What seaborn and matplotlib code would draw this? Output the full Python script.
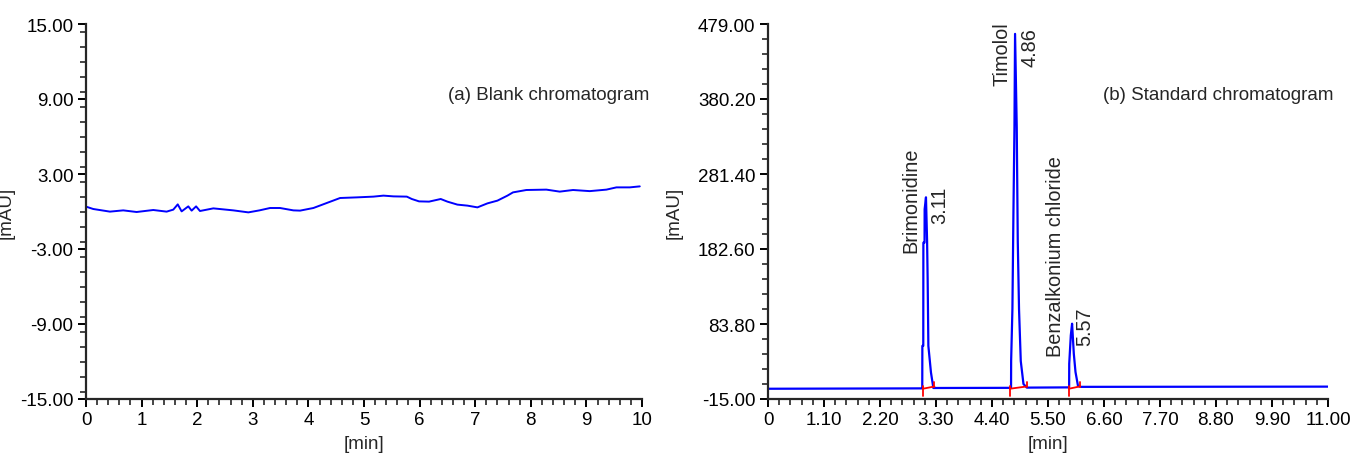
import numpy as np
import pandas as pd
import matplotlib
matplotlib.use("Agg")
import matplotlib.pyplot as plt
from matplotlib.ticker import MultipleLocator, FixedLocator
import seaborn as sns

# ---------------- data ----------------
# (a) blank chromatogram
blank_time = [0.00, 0.13, 0.43, 0.67, 0.91, 1.21, 1.45, 1.57, 1.65, 1.72, 1.84, 1.90,
              1.98, 2.05, 2.29, 2.65, 2.92, 3.12, 3.31, 3.49, 3.73, 3.85, 4.09, 4.33,
              4.57, 4.87, 5.17, 5.35, 5.53, 5.77, 5.86, 5.99, 6.17, 6.38, 6.50, 6.68,
              6.86, 7.04, 7.22, 7.40, 7.58, 7.68, 7.92, 8.28, 8.52, 8.76, 9.06, 9.36,
              9.54, 9.78, 9.96]
blank_signal = [0.39, 0.20, -0.01, 0.09, -0.04, 0.12, -0.01, 0.15, 0.57, 0.01, 0.41, 0.07,
                0.41, 0.04, 0.25, 0.09, -0.07, 0.09, 0.28, 0.28, 0.09, 0.07, 0.28, 0.68,
                1.08, 1.13, 1.19, 1.27, 1.21, 1.19, 1.00, 0.81, 0.79, 1.00, 0.79, 0.55,
                0.47, 0.33, 0.65, 0.87, 1.27, 1.53, 1.72, 1.75, 1.59, 1.72, 1.63, 1.75,
                1.93, 1.93, 2.01]

# (b) standard chromatogram
std_time = [0.00, 3.000, 3.030, 3.032, 3.050, 3.052, 3.075, 3.077, 3.103, 3.125, 3.136,
            3.150, 3.201, 3.248,
            3.30, 4.70, 4.774, 4.776, 4.801, 4.821, 4.841, 4.853, 4.886, 4.906, 4.931,
            4.965, 5.018, 5.083, 5.90, 5.915, 5.917, 5.948, 5.973, 6.007, 6.040, 6.090,
            6.15, 11.00]
std_signal = [-1.5, -1.0, -1.0, 55.0, 55.0, 191.0, 191.0, 235.0, 250.7, 193.0, 143.0,
              55.0, 20.0, -0.5,
              -0.5, -0.3, -0.3, 35.5, 103.6, 231.0, 343.0, 466.0, 343.0, 193.5, 103.0,
              35.0, 4.8, 0.0, 0.3, 0.3, 31.5, 68.9, 84.2, 44.7, 20.6, 2.0,
              1.0, 1.3]

# integration marks (red)
peak_start = [3.04, 4.75, 5.91]
peak_end = [3.27, 5.08, 6.12]
start_low, start_high = -10.6, 1.7
end_low, end_high = 0.4, 7.0
base_start, base_end = -1.5, 1.5

# peak labels
peak_names = ["Brimonidine", "Timolol", "Benzalkonium chloride"]
peak_rt_labels = ["3.11", "4.86", "5.57"]
name_pos_x = [2.80, 4.59, 5.65]
name_pos_y = [178.7, 398.6, 41.6]
rt_pos_x = [3.37, 5.14, 6.22]
rt_pos_y = [265.6, 475.0, 107.5]

a_yticks = [-15.0, -9.0, -3.0, 3.0, 9.0, 15.0]
a_xticks = list(range(0, 11))
b_yticks = [-15.0, 83.8, 182.6, 281.4, 380.2, 479.0]
b_xticks = [0.0, 1.1, 2.2, 3.3, 4.4, 5.5, 6.6, 7.7, 8.8, 9.9, 11.0]

# ---------------- style ----------------
sns.set_style("ticks")
plt.rcParams["font.family"] = ["Liberation Sans", "DejaVu Sans"]
FS = 13.5
BLUE = "#0000FF"
RED = "#FF0000"

fig = plt.figure(figsize=(13.54, 4.56), dpi=100)
ax_a = fig.add_axes([86 / 1354, 56 / 456, 556 / 1354, 375 / 456])
ax_b = fig.add_axes([768 / 1354, 56 / 456, 560 / 1354, 375 / 456])

df_a = pd.DataFrame({"t": blank_time, "v": blank_signal})
sns.lineplot(data=df_a, x="t", y="v", ax=ax_a, color=BLUE, lw=1.4,
             estimator=None, sort=False)

df_b = pd.DataFrame({"t": std_time, "v": std_signal})
sns.lineplot(data=df_b, x="t", y="v", ax=ax_b, color=BLUE, lw=1.6,
             estimator=None, sort=False)

# red integration baselines and ticks
for i, (ts, te) in enumerate(zip(peak_start, peak_end)):
    seg = pd.DataFrame({
        "t": [ts, ts, ts, te, te, te],
        "v": [start_low, start_high, base_start, base_end, end_low, end_high],
        "part": ["s", "s", "b", "b", "e", "e"],
    })
    for part in ["s", "b", "e"]:
        sns.lineplot(data=seg[seg.part == part], x="t", y="v", ax=ax_b,
                     color=RED, lw=1.3, estimator=None, sort=False)

for name, rt, nx, ny, rx, ry in zip(peak_names, peak_rt_labels, name_pos_x,
                                    name_pos_y, rt_pos_x, rt_pos_y):
    ax_b.text(nx, ny, name, rotation=90, ha="center", va="bottom", fontsize=14.3)
    ax_b.text(rx, ry, rt, rotation=90, ha="center", va="top", fontsize=14.3)

ax_a.text(1.014, 0.813, "(a) Blank chromatogram", transform=ax_a.transAxes,
          ha="right", va="center", fontsize=FS)
ax_b.text(1.009, 0.813, "(b) Standard chromatogram", transform=ax_b.transAxes,
          ha="right", va="center", fontsize=FS)

# axes formatting
ax_a.set_xlim(0, 10)
ax_a.set_ylim(-15, 15)
ax_a.xaxis.set_major_locator(FixedLocator(a_xticks))
ax_a.xaxis.set_minor_locator(MultipleLocator(0.2))
ax_a.yaxis.set_major_locator(FixedLocator(a_yticks))
ax_a.yaxis.set_minor_locator(MultipleLocator(1.2))
ax_a.set_xticklabels([str(v) for v in a_xticks])
ax_a.set_yticklabels([f"{v:.2f}" for v in a_yticks])

ax_b.set_xlim(0, 11)
ax_b.set_ylim(-15, 479)
ax_b.xaxis.set_major_locator(FixedLocator(b_xticks))
ax_b.xaxis.set_minor_locator(FixedLocator(list(np.arange(0, 11.001, 0.22))))
ax_b.yaxis.set_major_locator(FixedLocator(b_yticks))
ax_b.yaxis.set_minor_locator(FixedLocator(list(-15 + np.arange(0, 26) * 19.76)))
ax_b.set_xticklabels(["0"] + [f"{v:.2f}" for v in b_xticks[1:]])
ax_b.set_yticklabels([f"{v:.2f}" for v in b_yticks])

for ax in (ax_a, ax_b):
    sns.despine(ax=ax)
    ax.spines["left"].set_linewidth(1.6)
    ax.spines["bottom"].set_linewidth(1.6)
    ax.tick_params(axis="both", which="major", direction="out", length=6,
                   width=1.4, labelsize=FS, pad=3, colors="black")
    ax.tick_params(axis="both", which="minor", direction="out", length=4,
                   width=1.2)
    ax.set_xlabel("[min]", fontsize=FS)
    ax.set_ylabel("[mAU]", fontsize=FS)
    ax.xaxis.set_label_coords(0.5, -0.097)

ax_a.yaxis.set_label_coords(-0.128, 0.5)
ax_b.yaxis.set_label_coords(-0.152, 0.5)

fig.savefig("out.png", dpi=100)
